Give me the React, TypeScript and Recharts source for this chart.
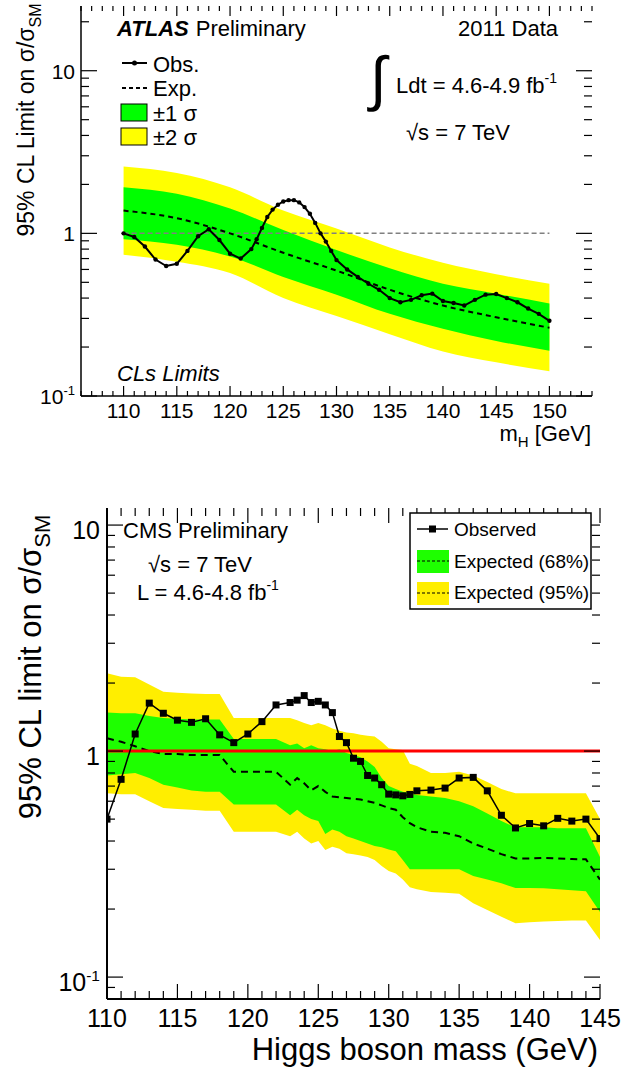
import React from 'react';
import { ComposedChart, Line, Area, XAxis, YAxis, ReferenceLine } from 'recharts';

const FONT = '"Liberation Sans", Arial, Helvetica, sans-serif';

// ---------- ATLAS (top panel) ----------
const atlasObsMass = [
  110, 111, 112, 113, 114, 115, 116, 117, 118, 119, 120, 121, 122, 122.5, 123, 123.5, 124, 124.5,
  125, 125.5, 126, 126.5, 127, 127.5, 128, 128.5, 129, 129.5, 130, 131, 132, 133, 134, 135, 136,
  137, 138, 139, 140, 141, 142, 143, 144, 145, 146, 147, 148, 149, 150,
];
const atlasObs = [
  1.0, 0.95, 0.83, 0.69, 0.63, 0.65, 0.78, 0.96, 1.06, 0.91, 0.75, 0.7, 0.8, 0.92, 1.08, 1.26, 1.4, 1.5,
  1.57, 1.6, 1.6, 1.55, 1.45, 1.32, 1.16, 1.0, 0.89, 0.78, 0.685, 0.6, 0.54, 0.49, 0.45, 0.4, 0.377,
  0.39, 0.416, 0.426, 0.384, 0.373, 0.36, 0.39, 0.42, 0.424, 0.4, 0.377, 0.345, 0.32, 0.29,
];
const atlasBandMass = [110, 115, 120, 125, 130, 135, 140, 145, 150];
const atlasExp = [1.38, 1.24, 1.0, 0.76, 0.59, 0.45, 0.36, 0.305, 0.263];
const atlasOneUp = [1.92, 1.75, 1.42, 1.05, 0.79, 0.61, 0.49, 0.426, 0.37];
const atlasOneDn = [0.92, 0.85, 0.72, 0.54, 0.42, 0.32, 0.259, 0.218, 0.19];
const atlasTwoUp = [2.58, 2.35, 1.92, 1.38, 1.07, 0.82, 0.659, 0.56, 0.49];
const atlasTwoDn = [0.74, 0.67, 0.57, 0.4, 0.31, 0.24, 0.188, 0.161, 0.142];

const atlasXMajor = [110, 115, 120, 125, 130, 135, 140, 145, 150];
const atlasYMajor = [0.1, 1, 10];
const atlasYMinor = [0.2, 0.3, 0.4, 0.5, 0.6, 0.7, 0.8, 0.9, 2, 3, 4, 5, 6, 7, 8, 9, 20];

// ---------- CMS (bottom panel) ----------
const cmsMass = [
  110, 111, 112, 113, 114, 115, 116, 117, 118, 119, 120, 121, 122, 123, 123.5, 124, 124.5, 125, 125.5,
  126, 126.5, 127, 127.5, 128, 128.5, 129, 129.5, 130, 130.5, 131, 131.5, 132, 133, 134, 135, 136, 137,
  138, 139, 140, 141, 142, 143, 144, 145,
];
const cmsObs = [
  0.5, 0.75, 1.19, 1.63, 1.47, 1.37, 1.34, 1.39, 1.18, 1.09, 1.19, 1.35, 1.6, 1.64, 1.68, 1.76, 1.64, 1.66, 1.6,
  1.48, 1.16, 1.09, 0.93, 0.9, 0.78, 0.76, 0.71, 0.645, 0.64, 0.634, 0.643, 0.667, 0.672, 0.686, 0.76, 0.765, 0.667,
  0.52, 0.457, 0.478, 0.467, 0.504, 0.49, 0.5, 0.41,
];
const cmsExp = [
  1.14, 1.1, 1.05, 1.0, 0.97, 0.97, 0.96, 0.96, 0.96, 0.81, 0.81, 0.81, 0.81, 0.71, 0.76, 0.72, 0.67, 0.7, 0.66,
  0.63, 0.625, 0.62, 0.615, 0.61, 0.6, 0.59, 0.575, 0.56, 0.55, 0.51, 0.48, 0.46, 0.44, 0.435, 0.42, 0.39, 0.37,
  0.35, 0.335, 0.335, 0.337, 0.335, 0.333, 0.332, 0.27,
];
const cmsOneUp = [
  1.48, 1.47, 1.47, 1.43, 1.4, 1.39, 1.38, 1.38, 1.38, 1.13, 1.13, 1.13, 1.13, 1.06, 1.08, 1.03, 1.06, 1.03, 1.02,
  1.0, 1.02, 0.98, 0.96, 0.94, 0.9, 0.85, 0.76, 0.7, 0.68, 0.66, 0.65, 0.64, 0.63, 0.62, 0.6, 0.57, 0.53,
  0.49, 0.46, 0.46, 0.46, 0.456, 0.456, 0.456, 0.34,
];
const cmsOneDn = [
  0.78, 0.79, 0.8, 0.76, 0.71, 0.69, 0.67, 0.66, 0.66, 0.58, 0.58, 0.58, 0.58, 0.52, 0.55, 0.52, 0.5, 0.49, 0.43,
  0.45, 0.44, 0.42, 0.41, 0.4, 0.39, 0.38, 0.375, 0.367, 0.36, 0.33, 0.3, 0.3, 0.3, 0.3, 0.3, 0.28, 0.27,
  0.26, 0.248, 0.248, 0.247, 0.245, 0.242, 0.24, 0.194,
];
const cmsTwoUp = [
  2.21, 2.13, 2.12, 1.97, 1.83, 1.81, 1.8, 1.79, 1.79, 1.4, 1.4, 1.4, 1.4, 1.4, 1.37, 1.33, 1.3, 1.33, 1.3,
  1.26, 1.23, 1.21, 1.2, 1.18, 1.17, 1.16, 1.1, 1.03, 1.02, 1.01, 0.88, 0.86, 0.8, 0.8, 0.81, 0.78, 0.73,
  0.68, 0.65, 0.65, 0.65, 0.65, 0.65, 0.65, 0.5,
];
const cmsTwoDn = [
  0.65, 0.645, 0.645, 0.6, 0.56, 0.555, 0.55, 0.545, 0.545, 0.44, 0.44, 0.44, 0.44, 0.42, 0.44, 0.41, 0.39, 0.4, 0.365,
  0.377, 0.37, 0.353, 0.35, 0.345, 0.34, 0.33, 0.31, 0.295, 0.287, 0.27, 0.25, 0.245, 0.238, 0.236, 0.234, 0.212, 0.198,
  0.185, 0.173, 0.175, 0.176, 0.177, 0.178, 0.178, 0.146,
];

const cmsXMajor = [110, 115, 120, 125, 130, 135, 140, 145];
const cmsYMajor = [0.1, 1, 10];
const cmsYMinor = [0.09, 0.2, 0.3, 0.4, 0.5, 0.6, 0.7, 0.8, 0.9, 2, 3, 4, 5, 6, 7, 8, 9];

// minor tick marks every 1 GeV
const unitTicks = (lo: number, hi: number) => {
  const out: number[] = [];
  for (let v = lo; v <= hi; v++) out.push(v);
  return out;
};

const atlasRows = atlasObsMass.map((m, i) => {
  const j = atlasBandMass.indexOf(m);
  return {
    m,
    obs: atlasObs[i],
    exp: j >= 0 ? atlasExp[j] : undefined,
    one: j >= 0 ? [atlasOneDn[j], atlasOneUp[j]] : undefined,
    two: j >= 0 ? [atlasTwoDn[j], atlasTwoUp[j]] : undefined,
  };
});

const cmsRows = cmsMass.map((m, i) => ({
  m,
  obs: cmsObs[i],
  exp: cmsExp[i],
  one: [cmsOneDn[i], cmsOneUp[i]],
  two: [cmsTwoDn[i], cmsTwoUp[i]],
}));

// ROOT style ticks: drawn inward from the frame on both opposite sides,
// labels only on majors. `span` is the plot size across the axis.
function frameTick(
  side: 'left' | 'bottom',
  span: number,
  majors: number[],
  majorLen: number,
  minorLen: number,
  label?: (v: number, x: number, y: number) => React.ReactNode
) {
  return (props: any) => {
    const { x, y, payload } = props;
    const v = payload.value;
    const major = majors.some((m) => Math.abs(m - v) < 1e-9);
    const len = major ? majorLen : minorLen;
    const ln = { stroke: '#000', strokeWidth: 1.2 };
    return (
      <g>
        {side === 'left' ? (
          <>
            <line x1={x} y1={y} x2={x + len} y2={y} {...ln} />
            <line x1={x + span} y1={y} x2={x + span - len} y2={y} {...ln} />
          </>
        ) : (
          <>
            <line x1={x} y1={y} x2={x} y2={y - len} {...ln} />
            <line x1={x} y1={y - span} x2={x} y2={y - span + len} {...ln} />
          </>
        )}
        {major && label ? label(v, x, y) : null}
      </g>
    );
  };
}

const logLabel = (fs: number, gap: number, dy: number) => (v: number, x: number, y: number) => (
  <text x={x - gap} y={y + dy} textAnchor="end" fontSize={fs} fontFamily={FONT} fill="#000">
    {v < 1 ? (
      <>
        10
        <tspan dy={-fs * 0.42} fontSize={fs * 0.62}>-1</tspan>
      </>
    ) : (
      String(v)
    )}
  </text>
);

const massLabel = (fs: number, dy: number) => (v: number, x: number, y: number) => (
  <text x={x} y={y + dy} textAnchor="middle" fontSize={fs} fontFamily={FONT} fill="#000">
    {v}
  </text>
);

const SquareDot = (props: any) => {
  const { cx, cy, index } = props;
  if (cx == null || cy == null) return null;
  return <rect key={index} x={cx - 3.5} y={cy - 3.5} width={7} height={7} fill="#000" />;
};

function AtlasChart() {
  const W = 625, H = 460;
  const m = { top: 6, right: 33, bottom: 34, left: 0 };
  const yw = 81, xh = 30;
  const plotW = W - m.left - m.right - yw;
  const plotH = H - m.top - m.bottom - xh;
  const frame = { stroke: '#000', strokeWidth: 1.5 };
  const xTicks = unitTicks(106, 154);
  const yTicks = [...atlasYMajor, ...atlasYMinor].sort((a, b) => a - b);
  return (
    <ComposedChart width={W} height={H} data={atlasRows} margin={m}>
      <XAxis
        xAxisId="b"
        dataKey="m"
        type="number"
        domain={[106, 154]}
        allowDataOverflow
        ticks={xTicks}
        interval={0}
        height={xh}
        tickSize={0}
        tickMargin={0}
        tickLine={false}
        axisLine={frame}
        tick={frameTick('bottom', plotH, atlasXMajor, 10, 5, massLabel(21, 22))}
      />
      <XAxis xAxisId="t" orientation="top" type="number" domain={[106, 154]} height={0} tick={false} tickLine={false} axisLine={frame} />
      <YAxis
        yAxisId="l"
        type="number"
        scale="log"
        domain={[0.1, 25]}
        allowDataOverflow
        ticks={yTicks}
        interval={0}
        width={yw}
        tickSize={0}
        tickMargin={0}
        tickLine={false}
        axisLine={frame}
        tick={frameTick('left', plotW, atlasYMajor, 16, 8, logLabel(21, 6, 8))}
      />
      <YAxis yAxisId="r" orientation="right" type="number" domain={[0.1, 25]} width={0} tick={false} tickLine={false} axisLine={frame} />
      <Area
        xAxisId="b"
        yAxisId="l"
        dataKey="two"
        type="monotone"
        fill="#ffff00"
        fillOpacity={1}
        stroke="none"
        connectNulls
        isAnimationActive={false}
      />
      <Area
        xAxisId="b"
        yAxisId="l"
        dataKey="one"
        type="monotone"
        fill="#00ff00"
        fillOpacity={1}
        stroke="none"
        connectNulls
        isAnimationActive={false}
      />
      <ReferenceLine
        xAxisId="b"
        yAxisId="l"
        segment={[
          { x: atlasObsMass[0], y: 1 },
          { x: atlasObsMass[atlasObsMass.length - 1], y: 1 },
        ]}
        stroke="#808080"
        strokeWidth={1.5}
        strokeDasharray="5 3"
      />
      <Line
        xAxisId="b"
        yAxisId="l"
        dataKey="exp"
        type="monotone"
        stroke="#000"
        strokeWidth={2}
        strokeDasharray="5 4"
        dot={false}
        connectNulls
        isAnimationActive={false}
      />
      <Line
        xAxisId="b"
        yAxisId="l"
        dataKey="obs"
        type="linear"
        stroke="#000"
        strokeWidth={2}
        dot={{ r: 2.2, fill: '#000', stroke: '#000', strokeWidth: 0 }}
        isAnimationActive={false}
      />
    </ComposedChart>
  );
}

function CmsChart() {
  const W = 625, H = 610;
  const m = { top: 48, right: 25, bottom: 31, left: 0 };
  const yw = 107, xh = 40;
  const plotW = W - m.left - m.right - yw;
  const plotH = H - m.top - m.bottom - xh;
  const frame = { stroke: '#000', strokeWidth: 2 };
  const xTicks = unitTicks(110, 145);
  const yTicks = [...cmsYMajor, ...cmsYMinor].sort((a, b) => a - b);
  return (
    <ComposedChart width={W} height={H} data={cmsRows} margin={m}>
      <XAxis
        xAxisId="b"
        dataKey="m"
        type="number"
        domain={[110, 145]}
        allowDataOverflow
        ticks={xTicks}
        interval={0}
        height={xh}
        tickSize={0}
        tickMargin={0}
        tickLine={false}
        axisLine={frame}
        tick={frameTick('bottom', plotH, cmsXMajor, 15, 8, massLabel(25, 28))}
      />
      <XAxis xAxisId="t" orientation="top" type="number" domain={[110, 145]} height={0} tick={false} tickLine={false} axisLine={frame} />
      <YAxis
        yAxisId="l"
        type="number"
        scale="log"
        domain={[0.08, 11.9]}
        allowDataOverflow
        ticks={yTicks}
        interval={0}
        width={yw}
        tickSize={0}
        tickMargin={0}
        tickLine={false}
        axisLine={frame}
        tick={frameTick('left', plotW, cmsYMajor, 16, 8, logLabel(25, 7, 14))}
      />
      <YAxis yAxisId="r" orientation="right" type="number" domain={[0.08, 11.9]} width={0} tick={false} tickLine={false} axisLine={frame} />
      <Area
        xAxisId="b"
        yAxisId="l"
        dataKey="two"
        type="linear"
        fill="#ffee00"
        fillOpacity={1}
        stroke="none"
        isAnimationActive={false}
      />
      <Area
        xAxisId="b"
        yAxisId="l"
        dataKey="one"
        type="linear"
        fill="#1eff00"
        fillOpacity={1}
        stroke="none"
        isAnimationActive={false}
      />
      <Line
        xAxisId="b"
        yAxisId="l"
        dataKey="exp"
        type="linear"
        stroke="#000"
        strokeWidth={2}
        strokeDasharray="7 5"
        dot={false}
        isAnimationActive={false}
      />
      <ReferenceLine xAxisId="b" yAxisId="l" y={1} stroke="#ff0000" strokeWidth={3} />
      <Line
        xAxisId="b"
        yAxisId="l"
        dataKey="obs"
        type="linear"
        stroke="#000"
        strokeWidth={1.5}
        dot={<SquareDot />}
        isAnimationActive={false}
      />
    </ComposedChart>
  );
}

function Annotations() {
  const t = { fontFamily: FONT, fill: '#000' };
  return (
    <svg
      width={625}
      height={1070}
      style={{ position: 'absolute', left: 0, top: 0, pointerEvents: 'none' }}
    >
      {/* ATLAS panel */}
      <text x={34} y={120} fontSize={23} textAnchor="middle" transform="rotate(-90 34 120)" {...t}>
        95% CL Limit on σ/σ
        <tspan dy={7} fontSize={16}>SM</tspan>
      </text>
      <text x={117} y={36} fontSize={22} {...t}>
        <tspan fontWeight="bold" fontStyle="italic">ATLAS</tspan>
        <tspan dx={7}>Preliminary</tspan>
      </text>
      <text x={558} y={36} fontSize={22} textAnchor="end" {...t}>2011 Data</text>
      <text x={370} y={99} fontSize={60} {...t}>∫</text>
      <text x={396} y={93} fontSize={22} {...t}>
        Ldt = 4.6-4.9 fb
        <tspan dy={-10} fontSize={14}>-1</tspan>
      </text>
      <text x={406} y={140} fontSize={22} {...t}>√s = 7 TeV</text>
      <line x1={122} y1={63} x2={147} y2={63} stroke="#000" strokeWidth={2} />
      <circle cx={134.5} cy={63} r={2.5} fill="#000" />
      <text x={153} y={72} fontSize={22} {...t}>Obs.</text>
      <line x1={122} y1={88} x2={147} y2={88} stroke="#000" strokeWidth={2} strokeDasharray="4 3" />
      <text x={153} y={96} fontSize={22} {...t}>Exp.</text>
      <rect x={121} y={104} width={26} height={17} fill="#00ff00" stroke="#000" strokeWidth={1} />
      <text x={153} y={121} fontSize={22} {...t}>±1 σ</text>
      <rect x={121} y={128} width={26} height={17} fill="#ffff00" stroke="#000" strokeWidth={1} />
      <text x={153} y={145} fontSize={22} {...t}>±2 σ</text>
      <text x={117} y={381} fontSize={22} fontStyle="italic" {...t}>CLs Limits</text>
      <text x={591} y={441} fontSize={22} textAnchor="end" {...t}>
        m<tspan dy={6} fontSize={15}>H</tspan>
        <tspan dy={-6}> [GeV]</tspan>
      </text>

      {/* CMS panel */}
      <text x={41} y={667} fontSize={31} textAnchor="middle" transform="rotate(-90 41 667)" {...t}>
        95% CL limit on σ/σ
        <tspan dy={9} fontSize={22}>SM</tspan>
      </text>
      <text x={123} y={538} fontSize={22} {...t}>CMS Preliminary</text>
      <text x={148} y={572} fontSize={22} {...t}>√s = 7 TeV</text>
      <text x={137} y={600} fontSize={22} {...t}>
        L = 4.6-4.8 fb
        <tspan dy={-10} fontSize={14}>-1</tspan>
      </text>
      <rect x={410} y={513} width={181} height={96} fill="#fff" stroke="#000" strokeWidth={1.5} />
      <line x1={417} y1={529} x2={448} y2={529} stroke="#000" strokeWidth={1.5} />
      <rect x={429} y={525.5} width={7} height={7} fill="#000" />
      <text x={454} y={536} fontSize={19} {...t}>Observed</text>
      <rect x={417} y={550} width={32} height={23} fill="#1eff00" />
      <line x1={417} y1={561} x2={449} y2={561} stroke="#000" strokeWidth={1.2} strokeDasharray="3 2" />
      <text x={454} y={568} fontSize={19} {...t}>Expected (68%)</text>
      <rect x={417} y={582} width={32} height={23} fill="#ffee00" />
      <line x1={417} y1={593} x2={449} y2={593} stroke="#000" strokeWidth={1.2} strokeDasharray="3 2" />
      <text x={454} y={599} fontSize={19} {...t}>Expected (95%)</text>
      <text x={598} y={1060} fontSize={31} textAnchor="end" {...t}>Higgs boson mass (GeV)</text>
    </svg>
  );
}

export default function App() {
  return (
    <div style={{ position: 'absolute', left: 0, top: 0, width: 625, height: 1070, background: '#fff' }}>
      <div style={{ position: 'absolute', left: 0, top: 0 }}>
        <AtlasChart />
      </div>
      <div style={{ position: 'absolute', left: 0, top: 460 }}>
        <CmsChart />
      </div>
      <Annotations />
    </div>
  );
}
